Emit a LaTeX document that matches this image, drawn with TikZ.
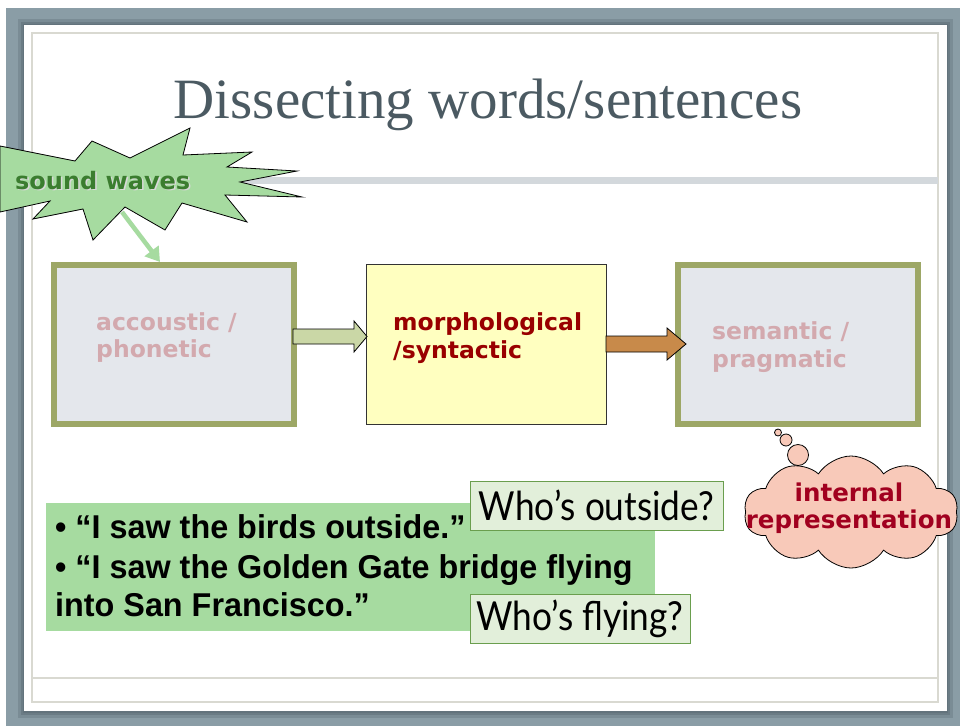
\documentclass[tikz,border=0pt]{standalone}
\usepackage{fontspec}
\usetikzlibrary{shapes.symbols,calc,arrows.meta}
\setmainfont{Liberation Serif}
\newfontfamily\verd{DejaVu Sans}
\newfontfamily\narrowsans{Liberation Sans}[FakeStretch=0.98]
\newfontfamily\gill{Lato}[FakeStretch=0.88]
\definecolor{bggray}{HTML}{8A9DA6}
\definecolor{shadowgray}{HTML}{5E6E76}
\definecolor{framegray}{HTML}{D9D9D1}
\definecolor{bandgray}{HTML}{D3D8DC}
\definecolor{titlecol}{HTML}{4B5A62}
\definecolor{olive}{HTML}{9DA766}
\definecolor{boxfill}{HTML}{E4E7EC}
\definecolor{fadedred}{HTML}{D3A9AE}
\definecolor{morphfill}{HTML}{FFFFC0}
\definecolor{darkred}{HTML}{990000}
\definecolor{arrowone}{HTML}{CAD7A6}
\definecolor{arrowtwo}{HTML}{C88A4A}
\definecolor{burstgreen}{HTML}{A6DBA0}
\definecolor{sounddark}{HTML}{3B7D2F}
\definecolor{cloudpink}{HTML}{F8C9B9}
\definecolor{intred}{HTML}{A1001F}
\definecolor{sentgreen}{HTML}{A6DBA0}
\definecolor{whofill}{HTML}{E2EFDA}
\definecolor{whoedge}{HTML}{6A9E4E}
\begin{document}
\begin{tikzpicture}[x=1pt,y=-1pt,
  stagebox/.style={draw=olive,line width=6pt,fill=boxfill,minimum width=240pt,minimum height=159pt,outer sep=0pt,inner sep=0pt},
  morphbox/.style={draw=black!80,line width=0.8pt,fill=morphfill,minimum width=240pt,minimum height=160pt,outer sep=0pt,inner sep=0pt},
  boxtext/.style={anchor=base west,inner sep=0pt,font=\verd\bfseries\fontsize{23.5}{28}\selectfont},
  blockarrow/.style={draw=black,line width=0.8pt,line join=miter},
  sentline/.style={anchor=base west,inner sep=0pt,font=\narrowsans\bfseries\fontsize{33}{36}\selectfont},
  whobox/.style={draw=whoedge,line width=1pt,fill=whofill,inner sep=0pt,outer sep=0pt,font=\gill\fontsize{40}{44}\selectfont}
]
\useasboundingbox (0,0) rectangle (960,726);
\fill[white] (0,0) rectangle (960,726);
\fill[bggray] (6,8) rectangle (960,726);
% slide shadow
\fill[shadowgray,opacity=0.35] (18,19) rectangle (953,718);
\fill[shadowgray,opacity=0.5] (21,22) rectangle (950,715);
\fill[shadowgray,opacity=0.6] (23,24) rectangle (948,713);
\fill[white] (24,25) rectangle (947,711);
\draw[framegray,line width=1.5pt] (32,33) rectangle (938,702);
\draw[framegray,line width=1.5pt] (32,678) -- (938,678);
\fill[bandgray] (32,177) rectangle (938,184);
% title
\node[anchor=base,inner sep=0pt,text=titlecol,font=\fontsize{57}{64}\selectfont] (title) at (488,118) {Dissecting words/sentences};
% stage boxes
\node[stagebox] (acou) at (174,344.5) {};
\node[morphbox] (morph) at (486,344) {};
\node[stagebox] (sem) at (798,344.5) {};
\node[boxtext,text=fadedred] (acoutxt) at (96,330) {accoustic /};
\node[boxtext,text=fadedred] (acoutxtb) at (96,357) {phonetic};
\node[boxtext,text=darkred] (morphtxt) at (393,330) {morphological};
\node[boxtext,text=darkred] (morphtxtb) at (393,358) {/syntactic};
\node[boxtext,text=fadedred] (semtxt) at (712,339) {semantic /};
\node[boxtext,text=fadedred] (semtxtb) at (712,367) {pragmatic};
% block arrows
\filldraw[blockarrow,fill=arrowone] ($(acou.east)+(-1,-15.5)$) -- (354,329) -- (354,321) -- ($(morph.west)+(1,-7.5)$) -- (354,352) -- (354,344) -- ($(acou.east)+(-1,-0.5)$) -- cycle;
\filldraw[blockarrow,fill=arrowtwo] ($(morph.east)+(0,-8)$) -- (667,336) -- (667,328) -- ($(sem.west)+(8,-0.5)$) -- (667,360) -- (667,352) -- ($(morph.east)+(0,8)$) -- cycle;
% starburst
\filldraw[draw=black,line width=0.8pt,fill=burstgreen,line join=miter]
  (0,146) -- (75,161) -- (92,141) -- (130,158) -- (190,128) -- (183,155) -- (252,152) -- (227,167)
  -- (297,171) -- (240,182) -- (302,197) -- (225,195) -- (247,222) -- (182,203) -- (165,230)
  -- (125,207) -- (93,240) -- (83,209) -- (33,219) -- (50,201) -- (0,212) -- cycle;
\coordinate (burstfoot) at (122,212);
\coordinate (acoutop) at ($(acou.north west)+(106,-3)$);
\draw[burstgreen,line width=4.5pt,-{Triangle[length=14pt,width=17pt]}] (burstfoot) -- (acoutop);
\node[anchor=base west,inner sep=0pt,text=white!85!black,font=\verd\bfseries\fontsize{24}{28}\selectfont] (soundshadow) at (16.5,190.5) {sound waves};
\node[anchor=base west,inner sep=0pt,text=sounddark,font=\verd\bfseries\fontsize{24}{28}\selectfont] (sound) at (15,189) {sound waves};
% thought cloud
\node[cloud,cloud puffs=10,cloud puff arc=115,aspect=2.0,draw=black,line width=0.8pt,fill=cloudpink,minimum width=214pt,minimum height=112pt,inner sep=0pt] (cloud) at (851,512) {};
\draw[black,line width=0.8pt,fill=cloudpink] (778,432.5) circle (3.5) (786,440) circle (6) (798,455) circle (10.5);
\node[anchor=base,inner sep=0pt,text=intred,font=\verd\bfseries\fontsize{24.5}{28}\selectfont] (inttxt) at (849,501) {internal};
\node[anchor=base,inner sep=0pt,text=intred,font=\verd\bfseries\fontsize{24.5}{28}\selectfont] (inttxtb) at (849,528) {representation};
% sentences
\node[fill=sentgreen,minimum width=609pt,minimum height=128pt,anchor=north west,inner sep=0pt,outer sep=0pt] (sent) at (46,503) {};
\node[sentline] (s1) at (55,538) {• “I saw the birds outside.”};
\node[sentline] (s2) at (55,578) {• “I saw the Golden Gate bridge flying};
\node[sentline] (s3) at (55,616) {into San Francisco.”};
\node[whobox,minimum width=253pt,minimum height=49pt] (q1) at (596.5,505.5) {Who’s outside?};
\node[whobox,minimum width=220pt,minimum height=49pt] (q2) at (580,618.5) {Who’s flying?};
\end{tikzpicture}
\end{document}
